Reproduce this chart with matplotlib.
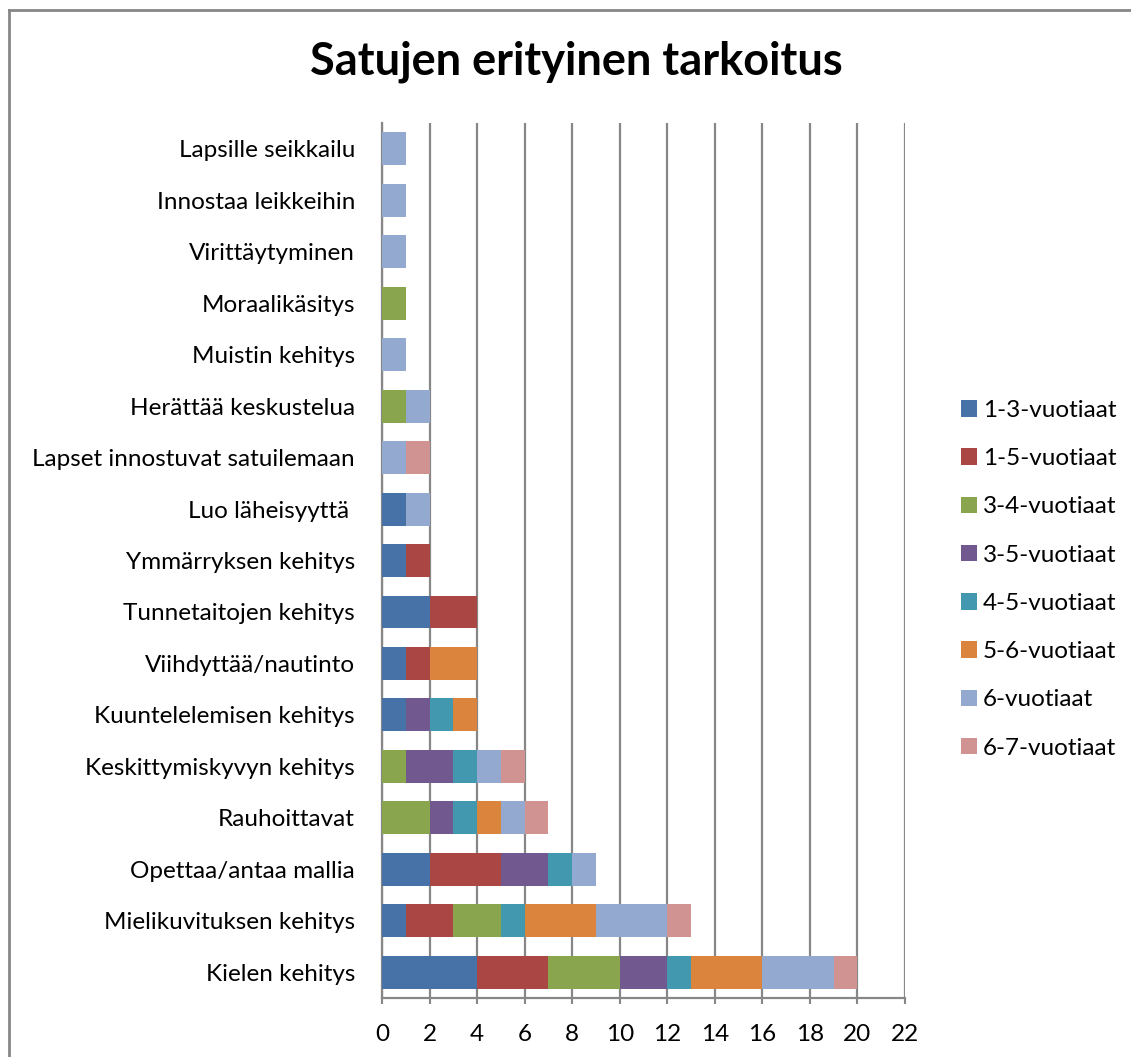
import numpy as np
import matplotlib.pyplot as plt
from matplotlib.patches import Patch
from matplotlib.lines import Line2D

plt.rcParams['font.family'] = ['Lato', 'DejaVu Sans']

# kategoriat alhaalta ylös
categories = [
    "Kielen kehitys", "Mielikuvituksen kehitys", "Opettaa/antaa mallia",
    "Rauhoittavat", "Keskittymiskyvyn kehitys", "Kuuntelelemisen kehitys",
    "Viihdyttää/nautinto", "Tunnetaitojen kehitys", "Ymmärryksen kehitys",
    "Luo läheisyyttä ", "Lapset innostuvat satuilemaan", "Herättää keskustelua",
    "Muistin kehitys", "Moraalikäsitys", "Virittäytyminen",
    "Innostaa leikkeihin", "Lapsille seikkailu",
]
series_names = ["1-3-vuotiaat", "1-5-vuotiaat", "3-4-vuotiaat", "3-5-vuotiaat",
                "4-5-vuotiaat", "5-6-vuotiaat", "6-vuotiaat", "6-7-vuotiaat"]

v_1_3 = [4, 1, 2, 0, 0, 1, 1, 2, 1, 1, 0, 0, 0, 0, 0, 0, 0]
v_1_5 = [3, 2, 3, 0, 0, 0, 1, 2, 1, 0, 0, 0, 0, 0, 0, 0, 0]
v_3_4 = [3, 2, 0, 2, 1, 0, 0, 0, 0, 0, 0, 1, 0, 1, 0, 0, 0]
v_3_5 = [2, 0, 2, 1, 2, 1, 0, 0, 0, 0, 0, 0, 0, 0, 0, 0, 0]
v_4_5 = [1, 1, 1, 1, 1, 1, 0, 0, 0, 0, 0, 0, 0, 0, 0, 0, 0]
v_5_6 = [3, 3, 0, 1, 0, 1, 2, 0, 0, 0, 0, 0, 0, 0, 0, 0, 0]
v_6 = [3, 3, 1, 1, 1, 0, 0, 0, 0, 1, 1, 1, 1, 0, 1, 1, 1]
v_6_7 = [1, 1, 0, 1, 1, 0, 0, 0, 0, 0, 1, 0, 0, 0, 0, 0, 0]

series = [v_1_3, v_1_5, v_3_4, v_3_5, v_4_5, v_5_6, v_6, v_6_7]
colors = ["#4672A8", "#AA4744", "#89A54E", "#71588F",
          "#4198AF", "#DB843D", "#93A9CF", "#D19392"]

fig = plt.figure(figsize=(11.31, 10.57), dpi=100)
ax = fig.add_axes([0.3378, 0.0558, 0.4624, 0.8278])

y = np.arange(len(categories))
left = np.zeros(len(categories))
for vals, col in zip(series, colors):
    vals = np.array(vals, dtype=float)
    ax.barh(y, vals, left=left, height=0.64, color=col, zorder=3)
    left += vals

ax.set_xlim(0, 22)
ax.set_ylim(-0.5, len(categories) - 0.5)
ax.set_xticks(np.arange(0, 23, 2))
ax.set_yticks(y)
ax.set_yticklabels(categories, fontsize=17.5)
ax.tick_params(axis='x', labelsize=17.5, length=4, color='#878787', width=1.5, pad=15)
ax.tick_params(axis='y', length=0, pad=19.5)
ax.xaxis.grid(True, color='#878787', linewidth=1.6, zorder=0)
ax.set_axisbelow(True)
for s in ['top', 'right']:
    ax.spines[s].set_visible(False)
for s in ['left', 'bottom']:
    ax.spines[s].set_color('#878787')
    ax.spines[s].set_linewidth(1.6)

fig.text(0.510, 0.942, "Satujen erityinen tarkoitus", ha='center', va='center',
         fontsize=32.5, fontweight='bold')

handles = [Patch(facecolor=c, edgecolor='none') for c in colors]
fig.legend(handles, series_names, loc='center left', bbox_to_anchor=(0.830, 0.452),
           frameon=False, fontsize=17.5, handlelength=0.66, handleheight=0.66,
           handletextpad=0.25, labelspacing=1.12)

# kaavion kehys
fig.add_artist(Line2D([0.008, 0.008], [0.0, 0.9905], transform=fig.transFigure,
                      color='#878787', linewidth=2))
fig.add_artist(Line2D([0.008, 1.0], [0.9905, 0.9905], transform=fig.transFigure,
                      color='#878787', linewidth=2))

fig.savefig("out.png", dpi=100)
